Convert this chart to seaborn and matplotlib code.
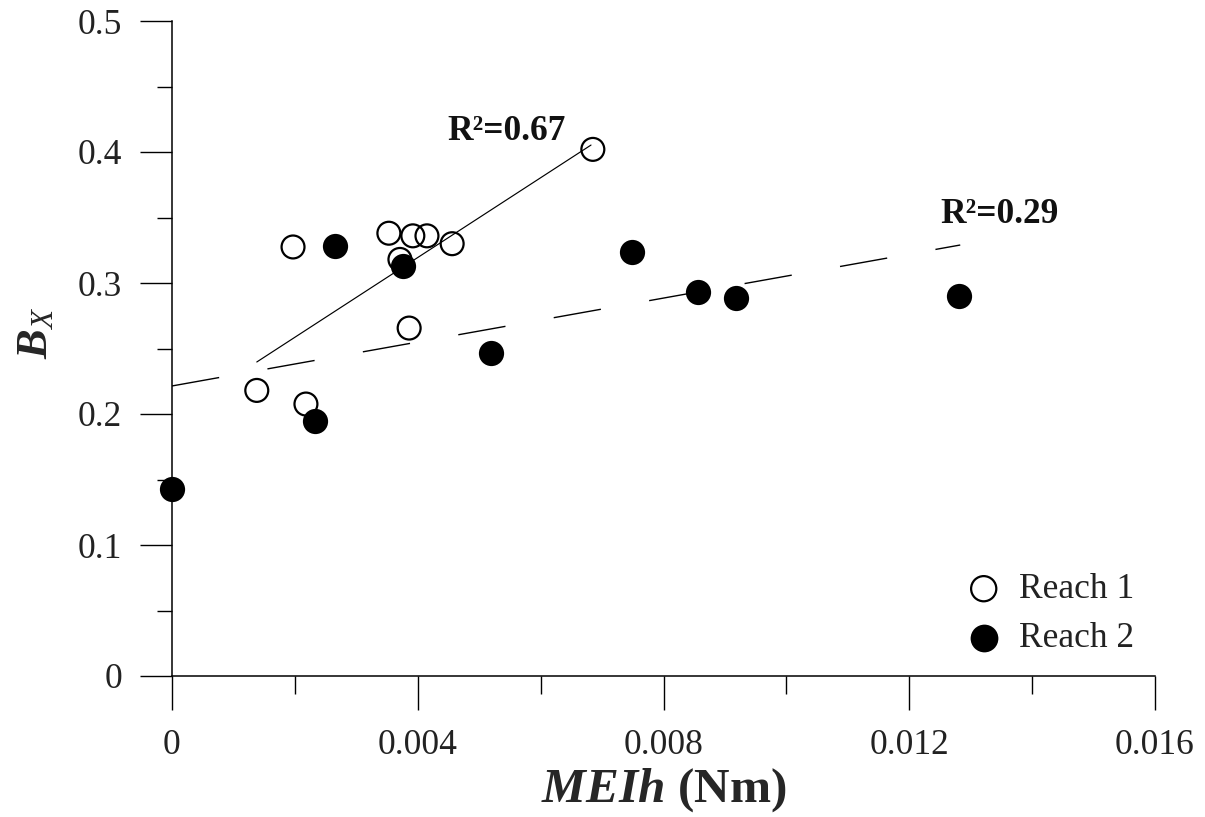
import matplotlib
matplotlib.use("Agg")
import matplotlib.pyplot as plt
import seaborn as sns
import pandas as pd

# ---- data ----
reach1_x = [0.00138, 0.00197, 0.00218, 0.00353, 0.00371, 0.00386, 0.00392, 0.00415, 0.00456, 0.00685]
reach1_y = [0.218, 0.3275, 0.2076, 0.338, 0.318, 0.2656, 0.336, 0.336, 0.330, 0.402]

reach2_x = [0.0, 0.00233, 0.00265, 0.00376, 0.00519, 0.00749, 0.00856, 0.00918, 0.01281]
reach2_y = [0.1427, 0.195, 0.328, 0.313, 0.2466, 0.3237, 0.293, 0.2885, 0.290]

fit1_x = [0.00138, 0.00682]
fit1_y = [0.2397, 0.4053]
fit2_x = [0.0, 0.01283]
fit2_y = [0.2214, 0.329]

fit1_label = "R²=0.67"
fit2_label = "R²=0.29"
series_labels = ["Reach 1", "Reach 2"]

x_ticks = [0.0, 0.004, 0.008, 0.012, 0.016]
x_tick_labels = ["0", "0.004", "0.008", "0.012", "0.016"]
x_minor = [0.002, 0.006, 0.010, 0.014]
y_ticks = [0.0, 0.1, 0.2, 0.3, 0.4, 0.5]
y_tick_labels = ["0", "0.1", "0.2", "0.3", "0.4", "0.5"]
y_minor = [0.05, 0.15, 0.25, 0.35, 0.45]

df1 = pd.DataFrame({"x": reach1_x, "y": reach1_y})
df2 = pd.DataFrame({"x": reach2_x, "y": reach2_y})
fit1 = pd.DataFrame({"x": fit1_x, "y": fit1_y})
fit2 = pd.DataFrame({"x": fit2_x, "y": fit2_y})

# ---- style ----
sns.set_style("ticks")
plt.rcParams["font.family"] = ["Liberation Serif", "DejaVu Serif"]
plt.rcParams["mathtext.fontset"] = "custom"
plt.rcParams["mathtext.rm"] = "Liberation Serif"
plt.rcParams["mathtext.it"] = "Liberation Serif:italic"
plt.rcParams["mathtext.bf"] = "Liberation Serif:bold"
plt.rcParams["mathtext.bfit"] = "Liberation Serif:bold:italic"

fig = plt.figure(figsize=(12.05, 8.17), dpi=100)
ax = fig.add_axes([172 / 1205, 141 / 817, 983 / 1205, 655 / 817])

# regression lines
sns.lineplot(data=fit1, x="x", y="y", ax=ax, color="black", linewidth=0.85,
             zorder=2, estimator=None, sort=False)
sns.lineplot(data=fit2, x="x", y="y", ax=ax, color="black", linewidth=1.0,
             linestyle=(0, (34.5, 35.3)), zorder=2, estimator=None, sort=False)

# points
sns.scatterplot(data=df1, x="x", y="y", ax=ax, s=272, marker="o",
                facecolor="none", edgecolor="black", linewidth=1.6,
                label=series_labels[0], zorder=3, clip_on=False)
sns.scatterplot(data=df2, x="x", y="y", ax=ax, s=330, marker="o",
                color="black", edgecolor="black", linewidth=0,
                label=series_labels[1], zorder=4, clip_on=False)

ax.set_xlim(0, 0.016)
ax.set_ylim(0, 0.5)

ax.set_xticks(x_ticks)
ax.set_xticklabels(x_tick_labels)
ax.set_xticks(x_minor, minor=True)
ax.set_yticks(y_ticks)
ax.set_yticklabels(y_tick_labels)
ax.set_yticks(y_minor, minor=True)

ax.tick_params(axis="both", which="both", direction="out", width=1.0, color="black",
               labelsize=25.5, labelcolor="#222222")
ax.tick_params(axis="y", which="major", length=23, pad=13)
ax.tick_params(axis="y", which="minor", length=11)
ax.tick_params(axis="x", which="major", length=24.5, pad=14)
ax.tick_params(axis="x", which="minor", length=13)

for side in ["top", "right"]:
    ax.spines[side].set_visible(False)
for side in ["left", "bottom"]:
    ax.spines[side].set_linewidth(1.1)
    ax.spines[side].set_color("black")

ax.set_xlabel(r"$\mathbfit{MEIh}$ (Nm)", fontsize=35.5, fontweight="bold")
ax.xaxis.set_label_coords(0.5, -0.138)
ax.set_ylabel(r"$\mathbfit{B}_{\mathit{X}}$", fontsize=32, fontweight="bold")
ax.yaxis.set_label_coords(-0.118, 0.524)

ax.text(0.004476, 0.416, fit1_label, fontsize=25.5, fontweight="bold",
        ha="left", va="center", color="#111111")
ax.text(0.0125, 0.352, fit2_label, fontsize=25.5, fontweight="bold",
        ha="left", va="center", color="#111111")

leg = ax.legend(loc="upper left", bbox_to_anchor=((966 - 172) / 983, (676 - 573) / 655),
                frameon=False, fontsize=25.5, borderpad=0, borderaxespad=0,
                handlelength=1.0, handletextpad=0.5, labelspacing=0.45,
                markerscale=1.1)
for t in leg.get_texts():
    t.set_color("#222222")

fig.savefig("out.png", dpi=100, facecolor="white")
